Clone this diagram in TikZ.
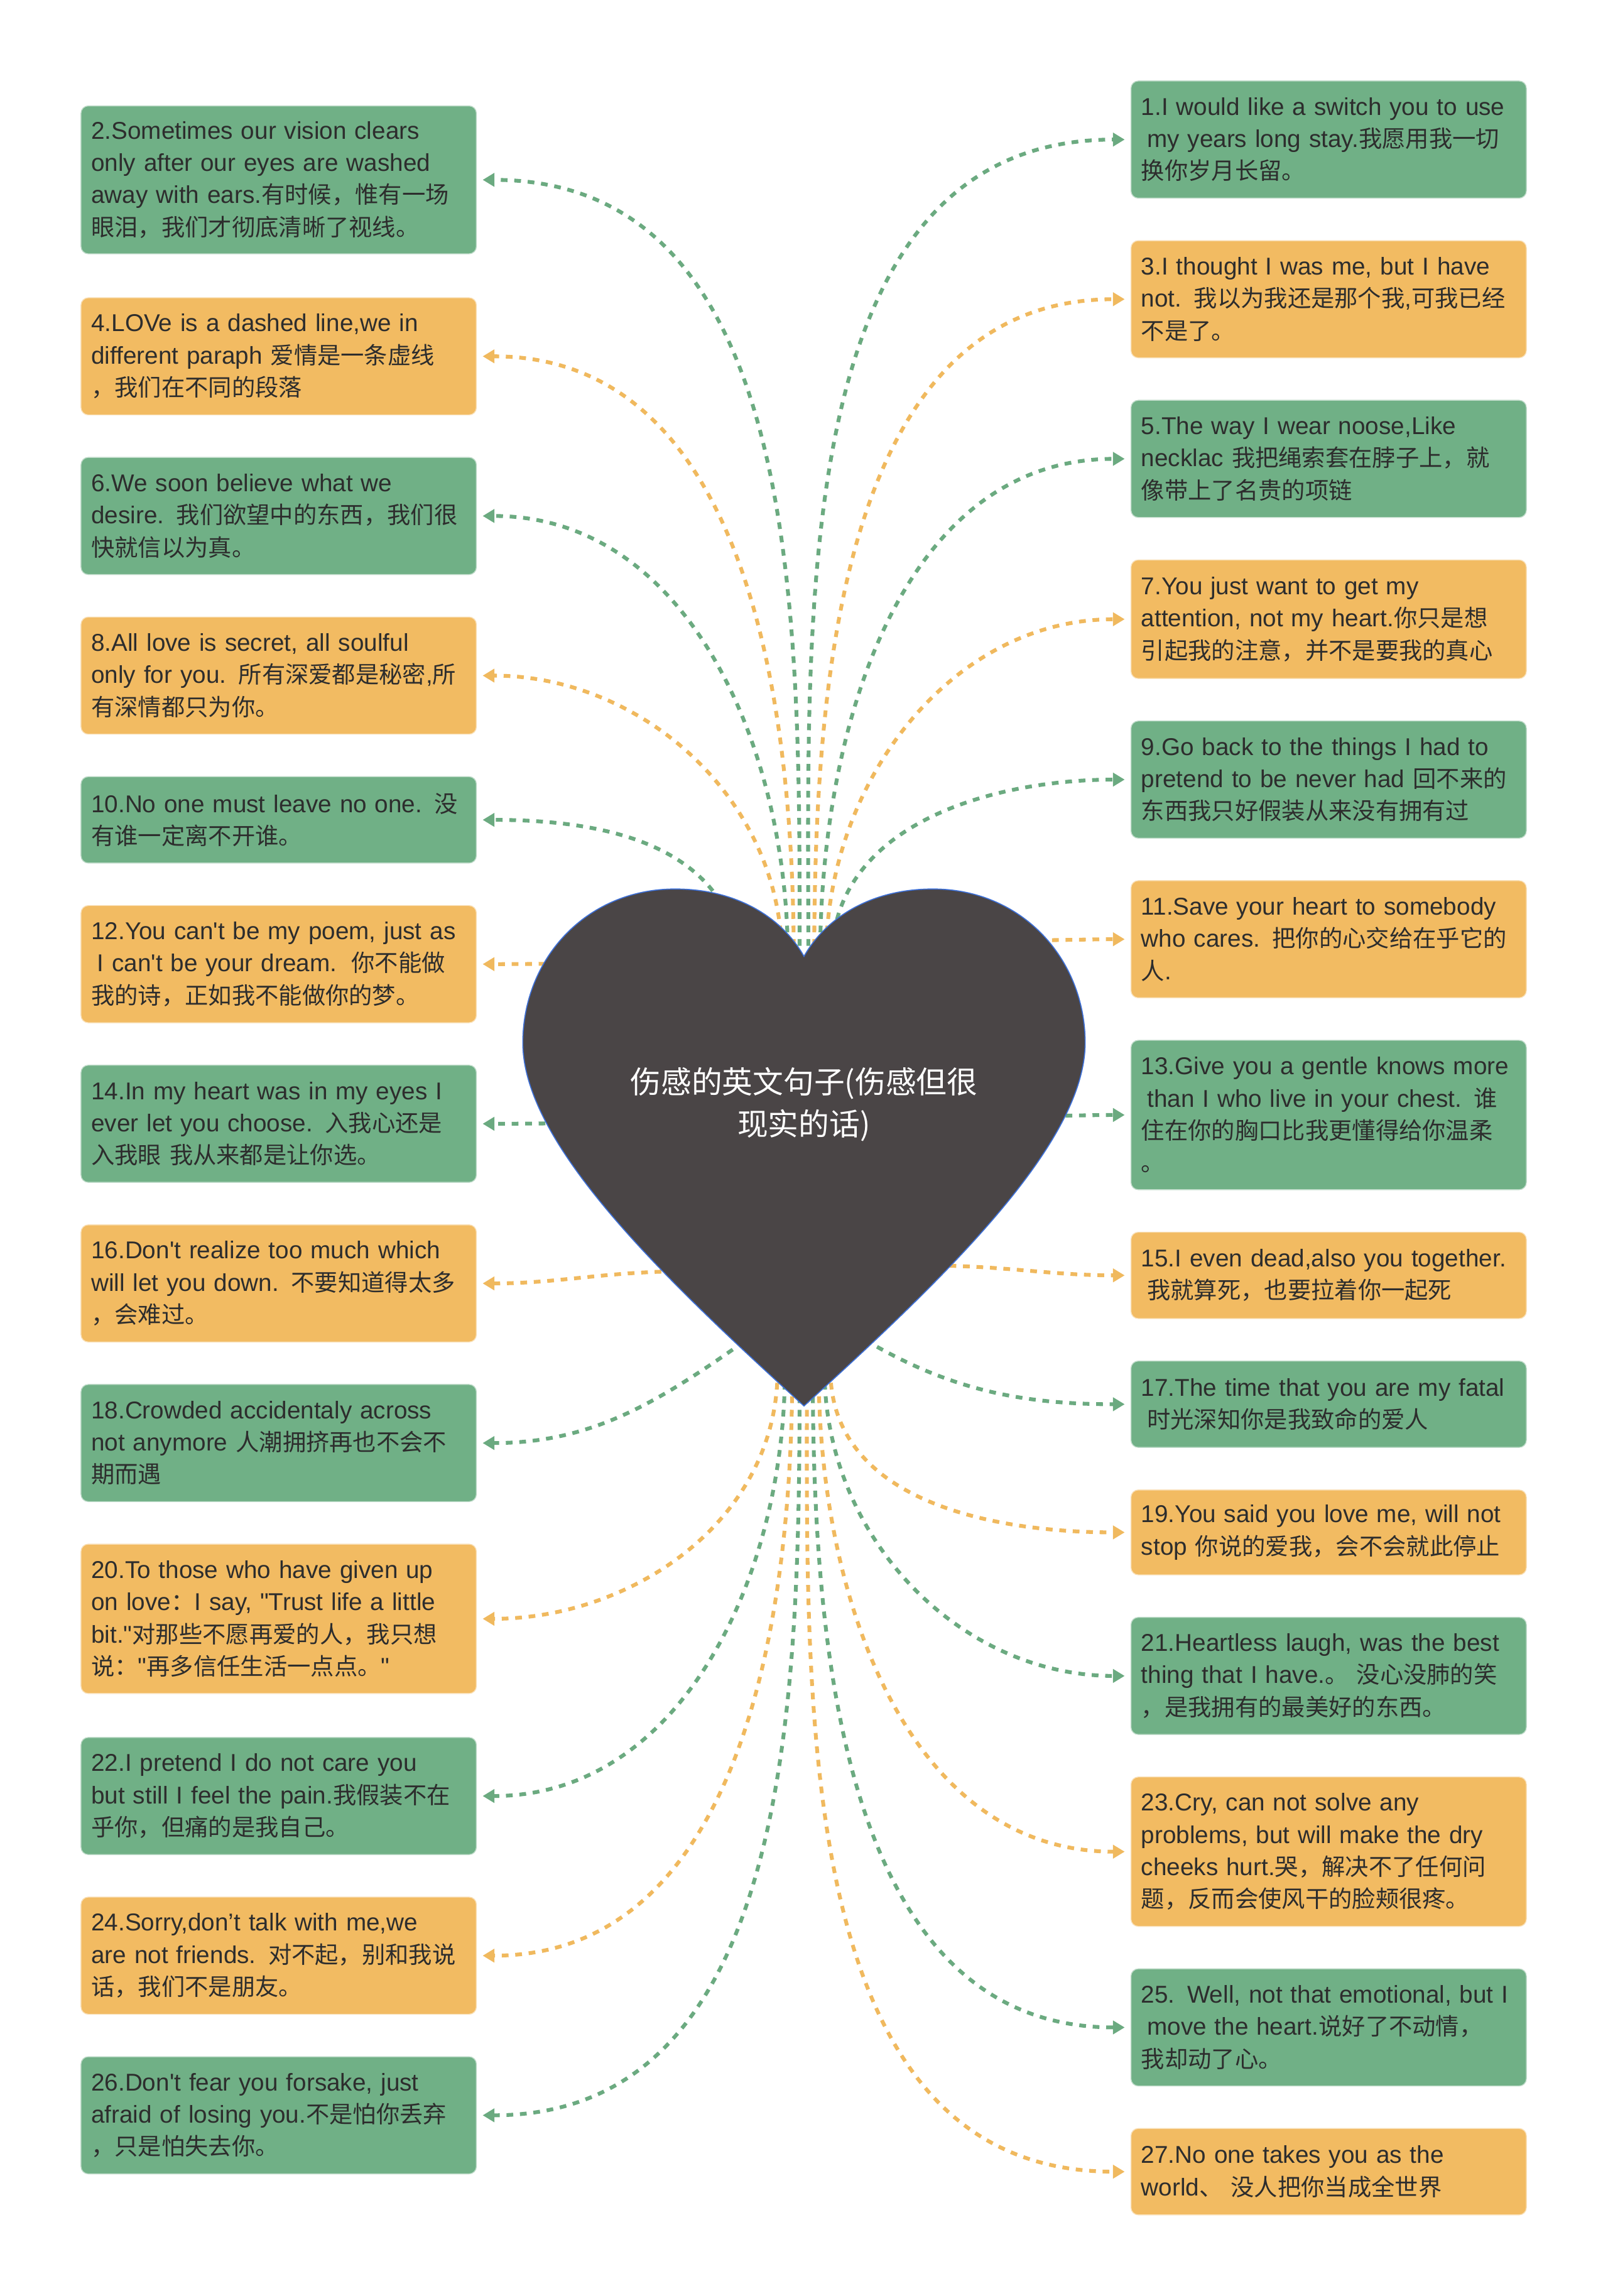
\documentclass[tikz,border=0pt]{standalone}
\usepackage{fontspec}
\setmainfont{Liberation Sans}[Ligatures=TeXOff]
\newfontfamily\cjkfont{Noto Sans CJK SC}[Scale=0.964]
\newcommand{\zh}[1]{{\cjkfont #1}}
\usetikzlibrary{arrows.meta}

\definecolor{boxgreen}{HTML}{70B086}
\definecolor{boxorange}{HTML}{F2BB62}
\definecolor{linegreen}{HTML}{6BAA80}
\definecolor{lineorange}{HTML}{F0B95E}
\definecolor{heartfill}{HTML}{4A4546}
\definecolor{heartline}{HTML}{3D6FD6}
\definecolor{quotetext}{HTML}{2D2D2D}

\tikzset{
  quotebox/.style={anchor=north west, rounded corners=5pt, text width=256pt,
    inner xsep=7pt, inner ysep=0pt, align=left, line width=0.6pt,
    font=\fontsize{16.6}{22}\selectfont, text=quotetext},
  greenbox/.style={quotebox, fill=boxgreen, draw=boxgreen!45!white},
  orangebox/.style={quotebox, fill=boxorange, draw=boxorange!45!white},
  dashlink/.style={line width=2.6pt, dash pattern=on 4.6pt off 4.6pt,
    shorten >=4pt, -{Triangle[length=8pt,width=9pt]}},
  greenlink/.style={dashlink, draw=linegreen},
  orangelink/.style={dashlink, draw=lineorange},
}

\begin{document}
\begin{tikzpicture}[x=1pt,y=1pt]
  \fill[white] (0,0) rectangle (1098,-1567.7);
  \useasboundingbox (0,0) rectangle (1098,-1567.7);

  % left column
  \node[greenbox, minimum height=101pt] (b2) at (55,-72) {2.Sometimes our vision clears\\only after our eyes are washed\\away with ears.\zh{有时候，惟有一场}\\\zh{眼泪，我们才彻底清晰了视线。}};
  \node[orangebox, minimum height=80pt] (b4) at (55,-203) {4.LOVe is a dashed line,we in\\different paraph \zh{爱情是一条虚线}\\\zh{，我们在不同的段落}};
  \node[greenbox, minimum height=80pt] (b6) at (55,-312) {6.We soon believe what we\\desire. \zh{我们欲望中的东西，我们很}\\\zh{快就信以为真。}};
  \node[orangebox, minimum height=80pt] (b8) at (55,-421) {8.All love is secret, all soulful\\only for you. \zh{所有深爱都是秘密},\zh{所}\\\zh{有深情都只为你。}};
  \node[greenbox, minimum height=59pt] (b10) at (55,-530) {\mbox{10.No one must leave no one. \zh{没}}\\\zh{有谁一定离不开谁。}};
  \node[orangebox, minimum height=80pt] (b12) at (55,-618) {12.You can't be my poem, just as\\\hspace*{4pt}I can't be your dream.\hspace{10pt}\zh{你不能做}\\\zh{我的诗，正如我不能做你的梦。}};
  \node[greenbox, minimum height=80pt] (b14) at (55,-727) {14.In my heart was in my eyes I\\ever let you choose. \zh{入我心还是}\\\zh{入我眼 我从来都是让你选。}};
  \node[orangebox, minimum height=80pt] (b16) at (55,-836) {16.Don't realize too much which\\will let you down. \zh{不要知道得太多}\\\zh{，会难过。}};
  \node[greenbox, minimum height=80pt] (b18) at (55,-945) {18.Crowded accidentaly across\\not anymore \zh{人潮拥挤再也不会不}\\\zh{期而遇}};
  \node[orangebox, minimum height=102pt] (b20) at (55,-1054) {20.To those who have given up\\on love\zh{：}I say, "Trust life a little\\bit."\zh{对那些不愿再爱的人，我只想}\\\zh{说：}"\zh{再多信任生活一点点。}"};
  \node[greenbox, minimum height=80pt] (b22) at (55,-1186) {22.I pretend I do not care you\\but still I feel the pain.\zh{我假装不在}\\\zh{乎你，但痛的是我自己。}};
  \node[orangebox, minimum height=80pt] (b24) at (55,-1295) {24.Sorry,don’t talk with me,we\\are not friends. \zh{对不起，别和我说}\\\zh{话，我们不是朋友。}};
  \node[greenbox, minimum height=80pt] (b26) at (55,-1404) {26.Don't fear you forsake, just\\afraid of losing you.\zh{不是怕你丢弃}\\\zh{，只是怕失去你。}};

  % right column
  \node[greenbox, minimum height=80pt] (b1) at (772,-55) {\mbox{1.I would like a switch you to use}\\\hspace*{4pt}my years long stay.\zh{我愿用我一切}\\\zh{换你岁月长留。}};
  \node[orangebox, minimum height=80pt] (b3) at (772,-164) {3.I thought I was me, but I have\\not. \zh{我以为我还是那个我},\zh{可我已经}\\\zh{不是了。}};
  \node[greenbox, minimum height=80pt] (b5) at (772,-273) {5.The way I wear noose,Like\\necklac \zh{我把绳索套在脖子上，就}\\\zh{像带上了名贵的项链}};
  \node[orangebox, minimum height=81pt] (b7) at (772,-382) {7.You just want to get my\\attention, not my heart.\zh{你只是想}\\\zh{引起我的注意，并不是要我的真心}};
  \node[greenbox, minimum height=80pt] (b9) at (772,-492) {9.Go back to the things I had to\\\mbox{pretend to be never had \zh{回不来的}}\\\zh{东西我只好假装从来没有拥有过}};
  \node[orangebox, minimum height=80pt] (b11) at (772,-601) {11.Save your heart to somebody\\who cares. \zh{把你的心交给在乎它的}\\\zh{人}.};
  \node[greenbox, minimum height=102pt] (b13) at (772,-710) {\mbox{13.Give you a gentle knows more}\\\hspace*{4pt}than I who live in your chest. \zh{谁}\\\zh{住在你的胸口比我更懂得给你温柔}\\\zh{。}};
  \node[orangebox, minimum height=59pt] (b15) at (772,-841) {\mbox{15.I even dead,also you together.}\\\hspace*{4pt}\zh{我就算死，也要拉着你一起死}};
  \node[greenbox, minimum height=59pt] (b17) at (772,-929) {\mbox{17.The time that you are my fatal}\\\hspace*{4pt}\zh{时光深知你是我致命的爱人}};
  \node[orangebox, minimum height=58pt] (b19) at (772,-1017) {19.You said you love me, will not\\stop \zh{你说的爱我，会不会就此停止}};
  \node[greenbox, minimum height=80pt] (b21) at (772,-1104) {21.Heartless laugh, was the best\\thing that I have.\zh{。} \zh{没心没肺的笑}\\\zh{，是我拥有的最美好的东西。}};
  \node[orangebox, minimum height=102pt] (b23) at (772,-1213) {23.Cry, can not solve any\\problems, but will make the dry\\cheeks hurt.\zh{哭，解决不了任何问}\\\zh{题，反而会使风干的脸颊很疼。}};
  \node[greenbox, minimum height=80pt] (b25) at (772,-1344) {\mbox{25. Well, not that emotional, but I}\\\hspace*{4pt}move the heart.\zh{说好了不动情，}\\\zh{我却动了心。}};
  \node[orangebox, minimum height=59pt] (b27) at (772,-1453) {27.No one takes you as the\\world\zh{、} \zh{没人把你当成全世界}};

  % start points hidden under the heart
  \coordinate (t2) at (546,-655);
  \coordinate (t4) at (542,-655);
  \coordinate (t6) at (538,-655);
  \coordinate (t8) at (534,-655);
  \coordinate (t10) at (505,-650);
  \coordinate (t1) at (552,-655);
  \coordinate (t3) at (556,-655);
  \coordinate (t5) at (560,-655);
  \coordinate (t7) at (564,-655);
  \coordinate (t9) at (568,-655);
  \coordinate (m12) at (400,-658);
  \coordinate (m14) at (400,-767);
  \coordinate (m16) at (470,-868);
  \coordinate (m18) at (538,-895);
  \coordinate (m11) at (700,-642);
  \coordinate (m13) at (700,-762);
  \coordinate (m15) at (630,-864);
  \coordinate (m17) at (560,-895);
  \coordinate (u20) at (531,-935);
  \coordinate (u22) at (536,-935);
  \coordinate (u24) at (541,-935);
  \coordinate (u26) at (546,-935);
  \coordinate (u19) at (567,-935);
  \coordinate (u21) at (563,-935);
  \coordinate (u23) at (559,-935);
  \coordinate (u25) at (555,-935);
  \coordinate (u27) at (551,-935);

  % connectors
  \draw[greenlink] (t2) to[out=90,in=0] (b2.east);
  \draw[orangelink] (t4) to[out=90,in=0] (b4.east);
  \draw[greenlink] (t6) to[out=90,in=0] (b6.east);
  \draw[orangelink] (t8) to[out=90,in=0] (b8.east);
  \draw[greenlink] (t10) to[out=100,in=0] (b10.east);
  \draw[greenlink] (t1) to[out=90,in=180] (b1.west);
  \draw[orangelink] (t3) to[out=90,in=180] (b3.west);
  \draw[greenlink] (t5) to[out=90,in=180] (b5.west);
  \draw[orangelink] (t7) to[out=90,in=180] (b7.west);
  \draw[greenlink] (t9) to[out=90,in=180] (b9.west);
  \draw[orangelink] (m12) to[out=180,in=0] (b12.east);
  \draw[greenlink] (m14) to[out=180,in=0] (b14.east);
  \draw[orangelink] (m16) to[out=180,in=0] (b16.east);
  \draw[greenlink] (m18) to[out=215,in=0] (b18.east);
  \draw[orangelink] (m11) to[out=0,in=180] (b11.west);
  \draw[greenlink] (m13) to[out=0,in=180] (b13.west);
  \draw[orangelink] (m15) to[out=0,in=180] (b15.west);
  \draw[greenlink] (m17) to[out=-35,in=180] (b17.west);
  \draw[orangelink] (u20) to[out=-90,in=0] (b20.east);
  \draw[greenlink] (u22) to[out=-90,in=0] (b22.east);
  \draw[orangelink] (u24) to[out=-90,in=0] (b24.east);
  \draw[greenlink] (u26) to[out=-90,in=0] (b26.east);
  \draw[orangelink] (u19) to[out=-90,in=180] (b19.west);
  \draw[greenlink] (u21) to[out=-90,in=180] (b21.west);
  \draw[orangelink] (u23) to[out=-90,in=180] (b23.west);
  \draw[greenlink] (u25) to[out=-90,in=180] (b25.west);
  \draw[orangelink] (u27) to[out=-90,in=180] (b27.west);

  % heart
  \filldraw[fill=heartfill, draw=heartline, line width=0.7pt]
    (549,-653) .. controls (535,-628) and (505,-607) .. (461,-607)
    .. controls (400,-607) and (357,-655) .. (357,-712)
    .. controls (357,-780) and (450,-870) .. (549,-960)
    .. controls (648,-870) and (741,-780) .. (741,-712)
    .. controls (741,-655) and (698,-607) .. (637,-607)
    .. controls (593,-607) and (563,-628) .. (549,-653) -- cycle;
  \node[text=white, align=center, font=\cjkfont\fontsize{21.7}{28.5}\selectfont] (title) at (549,-754) {伤感的英文句子(伤感但很\\现实的话)};
\end{tikzpicture}
\end{document}
